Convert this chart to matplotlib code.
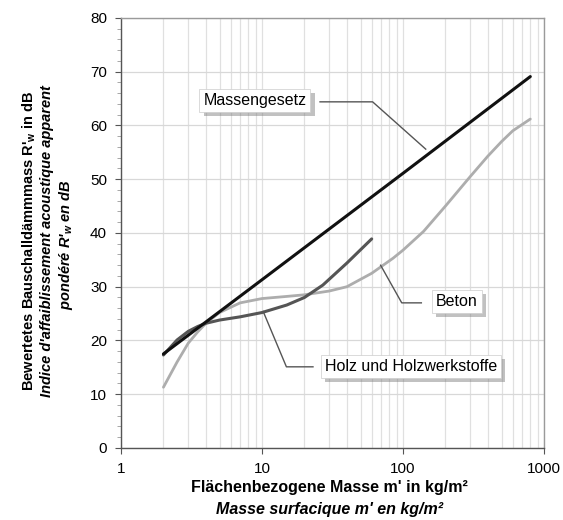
import matplotlib.pyplot as plt
import matplotlib.patheffects as pe
from matplotlib.ticker import MultipleLocator, LogLocator, NullFormatter, FixedLocator

plt.rcParams['font.family'] = ['Liberation Sans', 'DejaVu Sans']
plt.rcParams['mathtext.fontset'] = 'custom'
plt.rcParams['mathtext.rm'] = 'Liberation Sans'

# Massengesetz (mass law) - straight line on log axis
mass_x = [2, 10, 100, 800]
mass_y = [17.5, 31.3, 51.1, 69.1]

# Holz und Holzwerkstoffe
holz_x = [2, 2.5, 3, 3.5, 4, 5, 7, 10, 15, 20, 27, 40, 60]
holz_y = [17.3, 20.1, 21.7, 22.6, 23.2, 23.8, 24.4, 25.2, 26.6, 28.0, 30.3, 34.4, 38.9]

# Beton
beton_x = [2, 2.5, 3, 3.5, 4, 5, 7, 10, 15, 20, 30, 40, 60, 85, 100, 140, 200,
           300, 400, 500, 600, 800]
beton_y = [11.3, 16.0, 19.5, 21.6, 23.2, 25.2, 27.0, 27.8, 28.2, 28.5, 29.2, 30.0,
           32.5, 35.3, 36.8, 40.3, 45.0, 50.5, 54.3, 57.0, 59.0, 61.2]

labels = ["Massengesetz", "Beton", "Holz und Holzwerkstoffe"]
# label box centre and leader line (data coords)
label_pos = [(8.9, 64.7), (241, 27.2), (114, 15.1)]
leader_x = [[25.8, 60.9, 145], [135, 98, 69.4], [23.0, 14.9, 10.2]]
leader_y = [[64.4, 64.4, 55.6], [27.0, 27.0, 34.0], [15.1, 15.1, 25.4]]

fig = plt.figure(figsize=(5.63, 5.20), dpi=100)
ax = fig.add_axes([0.2149, 0.1385, 0.7513, 0.8269])

ax.plot(beton_x, beton_y, color='#adadad', lw=2.0, solid_capstyle='round', zorder=3)
ax.plot(holz_x, holz_y, color='#555555', lw=2.2, solid_capstyle='round', zorder=4)
ax.plot(mass_x, mass_y, color='#111111', lw=2.2, solid_capstyle='round', zorder=5)

for lab, (tx, ty), lx, ly in zip(labels, label_pos, leader_x, leader_y):
    ax.plot(lx, ly, color='#555555', lw=1.0, zorder=6)
    t = ax.text(tx, ty, lab, ha='center', va='center', fontsize=11.5, zorder=7,
                bbox=dict(boxstyle='square,pad=0.25', fc='white', ec='#cccccc', lw=0.5))
    t.get_bbox_patch().set_path_effects([
        pe.withSimplePatchShadow(offset=(3, -3), shadow_rgbFace='#777777', alpha=0.45)])

ax.set_xscale('log')
ax.set_xlim(1, 1000)
ax.set_ylim(0, 80)
ax.xaxis.set_major_locator(FixedLocator([1, 10, 100, 1000]))
ax.set_xticklabels(['1', '10', '100', '1000'])
ax.xaxis.set_minor_locator(LogLocator(base=10, subs=range(2, 10)))
ax.xaxis.set_minor_formatter(NullFormatter())
ax.yaxis.set_major_locator(MultipleLocator(10))
ax.yaxis.set_minor_locator(MultipleLocator(2))

ax.grid(which='major', axis='y', color='#d8d8d8', lw=0.9)
ax.grid(which='both', axis='x', color='#e0e0e0', lw=0.9)
ax.set_axisbelow(True)

for s in ax.spines.values():
    s.set_color('#9a9a9a')
    s.set_linewidth(1.0)
ax.spines['left'].set_color('#555555')
ax.spines['bottom'].set_color('#555555')

ax.tick_params(which='major', direction='out', length=4, color='#555555', labelsize=11, pad=6)
ax.tick_params(which='minor', direction='out', length=3, color='#999999')
ax.tick_params(axis='x', which='minor', length=0)

fig.text(0.586, 0.062, "Flächenbezogene Masse m' in kg/m²", ha='center', va='center',
         fontsize=11.5, fontweight='bold')
fig.text(0.586, 0.020, "Masse surfacique m' en kg/m²", ha='center', va='center',
         fontsize=11.5, fontweight='bold', style='italic')

fig.text(0.052, 0.536, "Bewertetes Bauschalldämmmass R'$_\\mathregular{w}$ in dB", rotation=90,
         ha='center', va='center', fontsize=10.5, fontweight='bold')
fig.text(0.084, 0.536, "Indice d'affaiblissement acoustique apparent", rotation=90,
         ha='center', va='center', fontsize=10.5, fontweight='bold', style='italic')
fig.text(0.117, 0.530, "pondéré R'$_\\mathregular{w}$ en dB", rotation=90,
         ha='center', va='center', fontsize=10.5, fontweight='bold', style='italic')

fig.savefig('out.png', dpi=100)
